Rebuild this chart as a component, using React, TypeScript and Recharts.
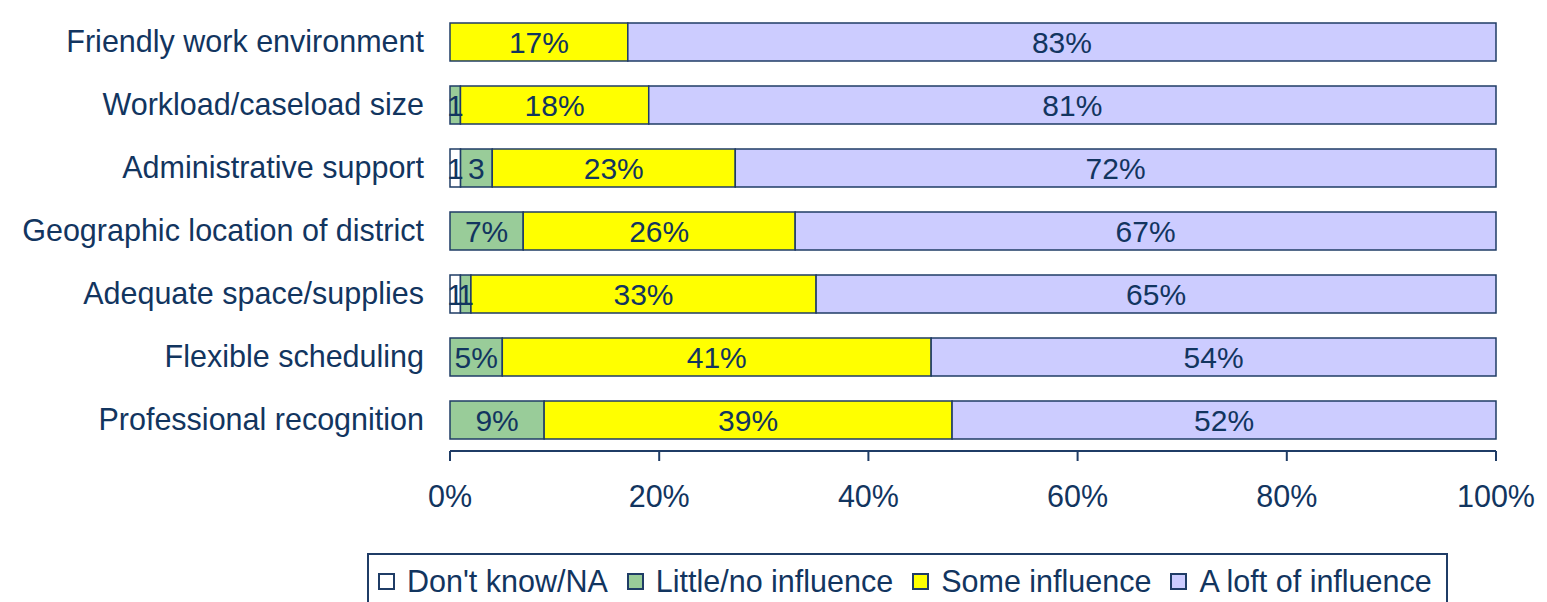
import React from 'react';
import { BarChart, Bar, XAxis, YAxis, Legend, LabelList } from 'recharts';

const categories = [
  'Friendly work environment',
  'Workload/caseload size',
  'Administrative support',
  'Geographic location of district',
  'Adequate space/supplies',
  'Flexible scheduling',
  'Professional recognition',
];
const dontKnow = [0, 0, 1, 0, 1, 0, 0];
const littleNo = [0, 1, 3, 7, 1, 5, 9];
const someInfluence = [17, 18, 23, 26, 33, 41, 39];
const aLotInfluence = [83, 81, 72, 67, 65, 54, 52];
const xTicks = [0, 0.2, 0.4, 0.6, 0.8, 1];
const boundaryTicks = [0, 1, 2, 3, 4, 5, 6, 7];
const seriesNames = ["Don't know/NA", 'Little/no influence', 'Some influence', 'A loft of influence'];
const seriesKeys = ['dk', 'little', 'some', 'alot'];
const seriesColors = ['#FFFFFF', '#99CC99', '#FFFF00', '#CCCCFF'];

const data = categories.map((name, i) => ({
  name,
  dk: dontKnow[i],
  little: littleNo[i],
  some: someInfluence[i],
  alot: aLotInfluence[i],
}));

const NAVY = '#12355F';
const STROKE = '#1F3C66';
const FONT = '"Liberation Sans", Arial, sans-serif';

const fmtLabel = (v: any) => {
  const n = Number(v);
  if (!n) return '';
  return n < 5 ? `${n}` : `${n}%`;
};

const CategoryTick = (props: any) => {
  const { x, y, payload } = props;
  return (
    <text x={x} y={y} dy="0.36em" textAnchor="end" fill={NAVY} fontSize={30.5} fontFamily={FONT}>
      {payload.value}
    </text>
  );
};

const LegendBox = () => (
  <div
    style={{
      boxSizing: 'border-box',
      width: 1081,
      height: 49,
      borderTop: `2px solid ${STROKE}`,
      borderLeft: `2px solid ${STROKE}`,
      borderRight: `2px solid ${STROKE}`,
      display: 'flex',
      alignItems: 'center',
      paddingLeft: 9,
      paddingTop: 6,
      fontFamily: FONT,
      fontSize: 30.5,
      color: NAVY,
      whiteSpace: 'nowrap',
    }}
  >
    {seriesNames.map((n, i) => (
      <div key={n} style={{ display: 'flex', alignItems: 'center', marginRight: 19 }}>
        <span
          style={{
            display: 'inline-block',
            boxSizing: 'border-box',
            width: 17,
            height: 17,
            background: seriesColors[i],
            border: `2px solid ${STROKE}`,
            marginRight: 12,
          }}
        />
        <span>{n}</span>
      </div>
    ))}
  </div>
);

export default function App() {
  return (
    <div style={{ position: 'absolute', left: 0, top: 0, width: 1547, height: 602, overflow: 'hidden', background: '#fff' }}>
      <BarChart
        width={1547}
        height={602}
        data={data}
        layout="vertical"
        stackOffset="expand"
        margin={{ top: 10, right: 51, left: 0, bottom: 91 }}
        barSize={38}
      >
        <XAxis
          type="number"
          domain={[0, 1]}
          ticks={xTicks}
          tickFormatter={(v: number) => `${Math.round(v * 100)}%`}
          axisLine={{ stroke: STROKE, strokeWidth: 2 }}
          tickLine={{ stroke: STROKE, strokeWidth: 2 }}
          tickSize={10}
          tickMargin={24}
          height={60}
          tick={{ fill: NAVY, fontSize: 30.5, fontFamily: FONT }}
        />
        <YAxis
          type="category"
          dataKey="name"
          width={450}
          axisLine={false}
          tickLine={false}
          tickSize={0}
          tickMargin={26}
          tick={<CategoryTick />}
          interval={0}
        />
        <YAxis
          yAxisId="grid"
          type="number"
          domain={[0, 7]}
          ticks={boundaryTicks}
          width={0}
          tick={false}
          tickSize={10}
          axisLine={{ stroke: STROKE, strokeWidth: 2 }}
          tickLine={{ stroke: STROKE, strokeWidth: 2 }}
        />
        {seriesKeys.map((k, i) => (
          <Bar
            key={k}
            dataKey={k}
            name={seriesNames[i]}
            stackId="a"
            fill={seriesColors[i]}
            stroke={STROKE}
            strokeWidth={1.5}
            isAnimationActive={false}
          >
            <LabelList
              dataKey={k}
              position="center"
              formatter={fmtLabel}
              fill={NAVY}
              fontSize={30}
              fontFamily={FONT}
            />
          </Bar>
        ))}
        <Legend
          layout="horizontal"
          verticalAlign="middle"
          align="center"
          wrapperStyle={{ left: 367, top: 553, width: 1081, height: 49 }}
          content={<LegendBox />}
        />
      </BarChart>
    </div>
  );
}
